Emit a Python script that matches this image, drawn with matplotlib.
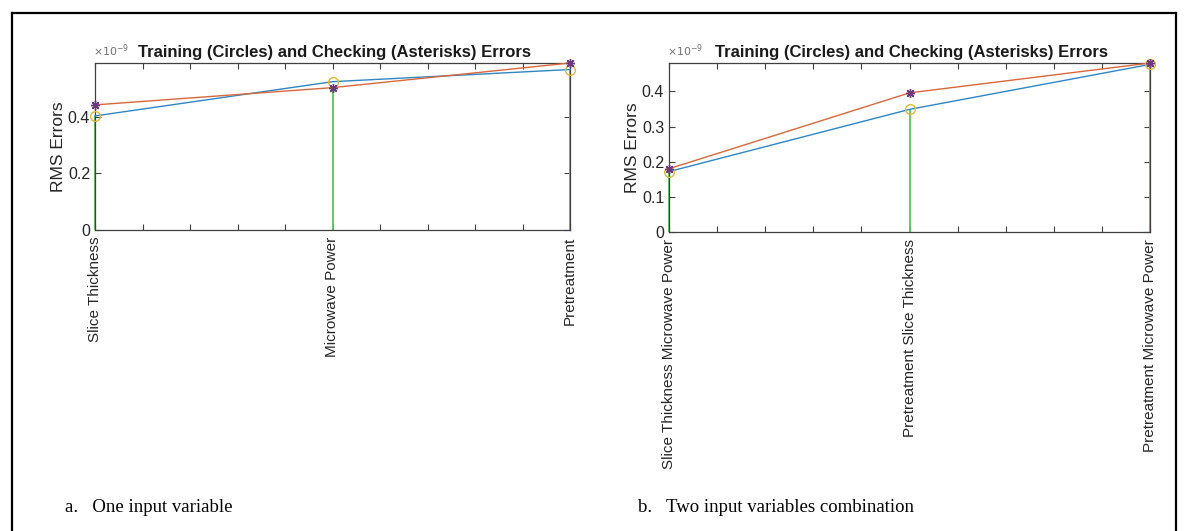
import matplotlib
matplotlib.use("Agg")
import matplotlib.pyplot as plt
from matplotlib.lines import Line2D
from matplotlib.ticker import MultipleLocator

plt.rcParams["font.family"] = ["Liberation Sans", "DejaVu Sans"]

# values are in units of 1e-9
labels_a = ["Slice Thickness", "Microwave Power", "Pretreatment"]
trn_a = [0.403, 0.524, 0.567]
chk_a = [0.442, 0.503, 0.590]
stem_a = [0.403, 0.503, 0.567]

labels_b = ["Slice Thickness Microwave Power", "Pretreatment Slice Thickness",
            "Pretreatment Microwave Power"]
trn_b = [0.172, 0.349, 0.477]
chk_b = [0.180, 0.396, 0.481]
stem_b = [0.172, 0.349, 0.477]

yticks_a = [0, 0.2, 0.4]
yticks_b = [0, 0.1, 0.2, 0.3, 0.4]

captions = ["a.   One input variable", "b.   Two input variables combination"]

title = "Training (Circles) and Checking (Asterisks) Errors"
axis_col = "#404040"

fig = plt.figure(figsize=(11.88, 5.31), dpi=100)

# outer frame of the figure panel
fig.add_artist(Line2D([12 / 1188, 1176 / 1188], [1 - 13 / 531] * 2, color="black", lw=1.6))
fig.add_artist(Line2D([12 / 1188] * 2, [0, 1 - 13 / 531], color="black", lw=1.6))
fig.add_artist(Line2D([1176 / 1188] * 2, [0, 1 - 13 / 531], color="black", lw=1.6))

boxes = [[95 / 1188, 1 - 230 / 531, 475 / 1188, 167 / 531],
         [669 / 1188, 1 - 232 / 531, 481 / 1188, 169 / 531]]
panels = [(labels_a, trn_a, chk_a, stem_a, yticks_a),
          (labels_b, trn_b, chk_b, stem_b, yticks_b)]

for box, (labels, trn, chk, stem, yt) in zip(boxes, panels):
    ax = fig.add_axes(box)
    x = list(range(1, len(labels) + 1))
    ax.plot(x, trn, color="#2f86c4", lw=1.0, zorder=3, clip_on=False)
    ax.plot(x, chk, color="#d8683a", lw=1.0, zorder=3, clip_on=False)
    ax.plot(x, trn, "o", mfc="none", mec="#e3b63a", ms=7, mew=1.0, zorder=4,
            clip_on=False)
    ax.plot(x, chk, ls="none", marker=(8, 2, 0), mec="#6e3a7e", ms=6.5, mew=1.0,
            zorder=4, clip_on=False)
    ax.vlines(x, 0, stem, color="#55c855", lw=1.3, zorder=2, clip_on=False)
    ax.set_xlim(1, len(labels))
    ax.set_ylim(0, max(chk))
    ax.set_xticks(x)
    ax.set_xticklabels(labels, rotation=90, fontsize=11, color="#262626")
    ax.xaxis.set_minor_locator(MultipleLocator(0.2))
    ax.set_yticks(yt)
    ax.set_yticklabels([f"{v:g}" for v in yt], fontsize=11.5, color="#262626")
    ax.tick_params(which="both", direction="in", top=True, right=True,
                   color=axis_col, width=0.8)
    ax.tick_params(which="major", length=4)
    ax.tick_params(which="minor", length=4)
    ax.tick_params(axis="x", pad=5)
    for s in ax.spines.values():
        s.set_color(axis_col)
        s.set_linewidth(0.9)
    ax.set_ylabel("RMS Errors", fontsize=12.5, color="#262626", labelpad=1)
    ax.set_title(title, fontsize=12, fontweight="bold", color="#1a1a1a", pad=4,
                 x=0.505)
    ax.text(-0.004, 1.022, r"$\times10^{-9}$", transform=ax.transAxes, fontsize=7.8,
            color="#707070", ha="left", va="bottom")

fig.text(65 / 1188, 1 - 507 / 531, captions[0], family=["Liberation Serif"],
         fontsize=13.5, va="center", ha="left")
fig.text(638 / 1188, 1 - 507 / 531, captions[1], family=["Liberation Serif"],
         fontsize=13.5, va="center", ha="left")

fig.savefig("out.png", dpi=100)
